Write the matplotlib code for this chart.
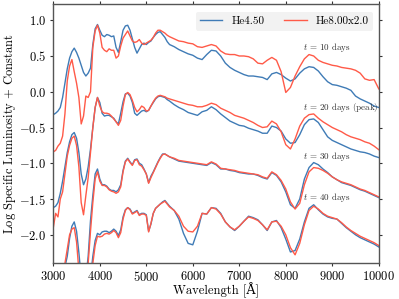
import numpy as np
import matplotlib
matplotlib.use("Agg")
import matplotlib.pyplot as plt

plt.rcParams['font.family'] = 'serif'
plt.rcParams['font.serif'] = ['cmr10']
plt.rcParams['mathtext.fontset'] = 'cm'
plt.rcParams['axes.formatter.use_mathtext'] = True

# wavelength sampling grid (Angstrom)
wl = np.concatenate([np.arange(3000, 5501, 50), np.arange(5600, 10001, 100)])

model_labels = ["He4.50", "He8.00x2.0"]
epoch_labels = [r"$t$ = 10 days", r"$t$ = 20 days (peak)", r"$t$ = 30 days", r"$t$ = 40 days"]
label_y = [0.62, -0.22, -0.90, -1.48]

b10 = [-0.32, -0.30, -0.27, -0.22, -0.08, 0.12, 0.32, 0.47, 0.56, 0.61,
       0.55, 0.47, 0.37, 0.27, 0.22, 0.26, 0.33, 0.66, 0.88, 0.94,
       0.86, 0.79, 0.77, 0.80, 0.79, 0.77, 0.78, 0.62, 0.55, 0.70,
       0.86, 0.92, 0.93, 0.86, 0.74, 0.62, 0.54, 0.60, 0.66, 0.68,
       0.66, 0.69, 0.71, 0.76, 0.80, 0.83, 0.84, 0.80, 0.76, 0.70,
       0.66,
       0.63, 0.59, 0.56, 0.53, 0.51, 0.47, 0.45, 0.52, 0.58, 0.57,
       0.50, 0.40, 0.34, 0.30, 0.27, 0.24, 0.22, 0.22, 0.21, 0.20,
       0.17, 0.25, 0.27, 0.24, 0.19, 0.15, 0.18, 0.26, 0.32, 0.35,
       0.34, 0.29, 0.21, 0.14, 0.10, 0.09, 0.07, 0.05, 0.02, -0.06,
       -0.10, -0.13, -0.16, -0.20, -0.22]
r10 = [-0.84, -0.82, -0.76, -0.72, -0.62, -0.31, 0.15, 0.36, 0.45, 0.28,
       0.12, -0.08, -0.45, -0.34, -0.06, -0.08, 0.00, 0.62, 0.85, 0.93,
       0.82, 0.62, 0.58, 0.56, 0.60, 0.58, 0.58, 0.47, 0.50, 0.64,
       0.75, 0.80, 0.85, 0.78, 0.71, 0.69, 0.70, 0.73, 0.68, 0.66,
       0.68, 0.70, 0.72, 0.76, 0.82, 0.86, 0.86, 0.84, 0.82, 0.79,
       0.77,
       0.74, 0.71, 0.70, 0.68, 0.67, 0.63, 0.62, 0.64, 0.66, 0.64,
       0.57, 0.53, 0.52, 0.52, 0.50, 0.50, 0.49, 0.46, 0.40, 0.39,
       0.44, 0.48, 0.44, 0.28, -0.01, 0.06, 0.22, 0.35, 0.46, 0.52,
       0.50, 0.44, 0.41, 0.39, 0.37, 0.36, 0.34, 0.33, 0.32, 0.30,
       0.26, 0.18, 0.16, 0.17, 0.04]
b20 = [-1.62, -1.60, -1.55, -1.42, -1.25, -1.05, -0.85, -0.70, -0.60, -0.57,
       -0.65, -0.85, -1.15, -1.30, -1.22, -1.05, -0.80, -0.50, -0.22, -0.08,
       -0.15, -0.30, -0.34, -0.33, -0.33, -0.35, -0.37, -0.42, -0.45, -0.30,
       -0.14, -0.03, -0.02, -0.06, -0.15, -0.30, -0.33, -0.30, -0.27, -0.26,
       -0.28, -0.26, -0.20, -0.15, -0.10, -0.07, -0.06, -0.07, -0.08, -0.11,
       -0.13,
       -0.18, -0.22, -0.25, -0.29, -0.31, -0.33, -0.28, -0.26, -0.21, -0.25,
       -0.31, -0.36, -0.41, -0.44, -0.47, -0.48, -0.51, -0.53, -0.55, -0.58,
       -0.58, -0.48, -0.50, -0.55, -0.66, -0.72, -0.71, -0.60, -0.46, -0.39,
       -0.38, -0.43, -0.53, -0.63, -0.68, -0.71, -0.74, -0.77, -0.80, -0.82,
       -0.84, -0.85, -0.87, -0.90, -0.92]
r20 = [-1.90, -1.70, -1.75, -1.50, -1.40, -1.15, -0.90, -0.75, -0.65, -0.62,
       -0.75, -1.05, -1.55, -1.72, -1.45, -1.20, -0.85, -0.50, -0.22, -0.08,
       -0.20, -0.28, -0.30, -0.30, -0.31, -0.34, -0.38, -0.42, -0.47, -0.40,
       -0.20, -0.04, -0.01, -0.04, -0.12, -0.22, -0.28, -0.25, -0.20, -0.22,
       -0.27, -0.26, -0.20, -0.14, -0.09, -0.06, -0.05, -0.06, -0.07, -0.09,
       -0.10,
       -0.12, -0.14, -0.16, -0.18, -0.19, -0.21, -0.21, -0.19, -0.16, -0.18,
       -0.23, -0.26, -0.29, -0.33, -0.35, -0.37, -0.40, -0.43, -0.47, -0.50,
       -0.49, -0.41, -0.45, -0.56, -0.74, -0.80, -0.66, -0.48, -0.37, -0.32,
       -0.31, -0.37, -0.42, -0.46, -0.50, -0.53, -0.56, -0.60, -0.63, -0.65,
       -0.67, -0.70, -0.72, -0.76, -0.81]
b30 = [-2.90, -2.85, -2.80, -2.70, -2.60, -2.45, -2.30, -2.05, -1.88, -1.82,
       -1.95, -2.25, -2.60, -2.75, -2.60, -2.30, -1.80, -1.45, -1.15, -1.08,
       -1.22, -1.30, -1.30, -1.32, -1.36, -1.38, -1.38, -1.40, -1.37, -1.30,
       -1.10, -0.97, -0.93, -0.98, -1.02, -0.95, -0.94, -1.00, -1.02, -1.08,
       -1.15, -1.27, -1.18, -1.12, -1.05, -0.98, -0.92, -0.87, -0.87, -0.89,
       -0.91,
       -0.94, -0.97, -0.98, -0.99, -1.00, -1.01, -1.02, -1.03, -0.99, -1.02,
       -1.08, -1.08, -1.10, -1.11, -1.13, -1.14, -1.15, -1.15, -1.17, -1.20,
       -1.22, -1.13, -1.17, -1.26, -1.40, -1.58, -1.63, -1.50, -1.22, -1.06,
       -0.99, -1.02, -1.08, -1.13, -1.19, -1.23, -1.27, -1.29, -1.31, -1.34,
       -1.37, -1.39, -1.42, -1.45, -1.48]
r30 = [-3.20, -3.10, -3.00, -2.85, -2.65, -2.40, -2.20, -2.00, -1.92, -1.90,
       -2.10, -2.50, -2.90, -2.90, -2.70, -2.40, -1.95, -1.55, -1.22, -1.12,
       -1.25, -1.31, -1.31, -1.33, -1.37, -1.39, -1.40, -1.42, -1.40, -1.33,
       -1.12, -0.98, -0.94, -0.99, -1.03, -0.96, -0.95, -1.02, -1.04, -1.09,
       -1.15, -1.28, -1.20, -1.13, -1.06, -0.99, -0.93, -0.88, -0.87, -0.89,
       -0.91,
       -0.93, -0.96, -0.97, -0.98, -0.99, -1.00, -1.01, -1.02, -0.98, -1.01,
       -1.07, -1.08, -1.09, -1.10, -1.12, -1.13, -1.14, -1.15, -1.16, -1.19,
       -1.21, -1.12, -1.16, -1.24, -1.36, -1.54, -1.64, -1.56, -1.30, -1.12,
       -1.06, -1.07, -1.10, -1.14, -1.19, -1.23, -1.26, -1.28, -1.30, -1.33,
       -1.36, -1.38, -1.41, -1.44, -1.47]
b40 = [-3.80, -3.70, -3.60, -3.50, -3.30, -3.10, -2.95, -2.85, -2.80, -2.80,
       -2.90, -3.10, -3.30, -3.40, -3.20, -2.90, -2.60, -2.30, -2.08, -1.98,
       -2.00, -1.96, -1.95, -1.95, -1.97, -1.95, -1.92, -1.95, -2.01, -1.93,
       -1.75, -1.65, -1.62, -1.64, -1.70, -1.68, -1.66, -1.72, -1.70, -1.70,
       -1.72, -1.95, -1.85, -1.70, -1.63, -1.60, -1.57, -1.54, -1.52, -1.56,
       -1.60,
       -1.66, -1.78, -1.98, -2.12, -2.14, -1.95, -1.70, -1.71, -1.62, -1.63,
       -1.70, -1.82, -1.89, -1.94, -1.88, -1.81, -1.74, -1.76, -1.79, -1.86,
       -1.94, -1.82, -1.80, -1.90, -2.06, -2.24, -2.22, -2.06, -1.82, -1.63,
       -1.58, -1.65, -1.71, -1.75, -1.77, -1.78, -1.84, -1.90, -1.95, -2.00,
       -2.04, -2.07, -2.10, -2.13, -2.17]
r40 = [-3.90, -3.80, -3.70, -3.55, -3.40, -3.20, -3.00, -2.90, -2.85, -2.85,
       -3.00, -3.20, -3.40, -3.50, -3.30, -3.00, -2.70, -2.40, -2.15, -2.02,
       -2.03, -2.02, -1.99, -1.98, -1.99, -1.97, -1.94, -1.97, -2.04, -1.97,
       -1.78, -1.66, -1.62, -1.65, -1.71, -1.69, -1.67, -1.73, -1.71, -1.71,
       -1.73, -1.96, -1.84, -1.70, -1.63, -1.60, -1.57, -1.55, -1.53, -1.57,
       -1.61,
       -1.66, -1.74, -1.88, -1.95, -1.96, -1.88, -1.70, -1.71, -1.62, -1.64,
       -1.71, -1.82, -1.89, -1.93, -1.88, -1.81, -1.75, -1.77, -1.80, -1.86,
       -1.93, -1.82, -1.81, -1.88, -2.00, -2.18, -2.28, -2.12, -1.86, -1.66,
       -1.60, -1.64, -1.70, -1.74, -1.76, -1.78, -1.83, -1.89, -1.94, -1.98,
       -2.02, -2.05, -2.08, -2.11, -2.15]

blue_series = [b10, b20, b30, b40]
red_series = [r10, r20, r30, r40]

c_blue = '#3f7bb6'
c_red = '#ff5a48'

fig = plt.figure(figsize=(3.99, 2.99), dpi=100)
ax = fig.add_axes([0.1336, 0.1214, 0.8157, 0.8636])

for i, (b, r) in enumerate(zip(blue_series, red_series)):
    ax.plot(wl, b, color=c_blue, lw=1.0, label=model_labels[0] if i == 0 else None)
    ax.plot(wl, r, color=c_red, lw=1.0, label=model_labels[1] if i == 0 else None)
    ax.text(8370, label_y[i], epoch_labels[i], fontsize=6.5, color='#333333',
            va='center', ha='left')

ax.set_xlim(3000, 10000)
ax.set_ylim(-2.39, 1.22)
ax.set_xticks([3000, 4000, 5000, 6000, 7000, 8000, 9000, 10000])
ax.set_yticks([-2.0, -1.5, -1.0, -0.5, 0.0, 0.5, 1.0])
ax.tick_params(direction='out', length=2.5, width=0.8, pad=2.5, labelsize=9,
               colors='#333333', top=True, right=True,
               labeltop=False, labelright=False)
ax.tick_params(labelcolor='black')
for s in ax.spines.values():
    s.set_color('#555555')
    s.set_linewidth(1.0)

ax.set_xlabel('Wavelength [Å]', fontsize=9, family=['cmr10', 'DejaVu Serif'])
ax.xaxis.set_label_coords(0.5, -0.075)
ax.xaxis.label.set_va('top')
ax.set_ylabel(r'Log Specific Luminosity $+$ Constant', fontsize=9)
ax.yaxis.set_label_coords(-0.11, 0.5)

leg = ax.legend(loc='upper right', bbox_to_anchor=(0.982, 0.971), borderaxespad=0,
                ncol=2, fontsize=8, frameon=True,
                facecolor='#f2f2f2', edgecolor='none', framealpha=1.0,
                handlelength=2.0, columnspacing=1.8)

fig.savefig('out.png', dpi=100)
